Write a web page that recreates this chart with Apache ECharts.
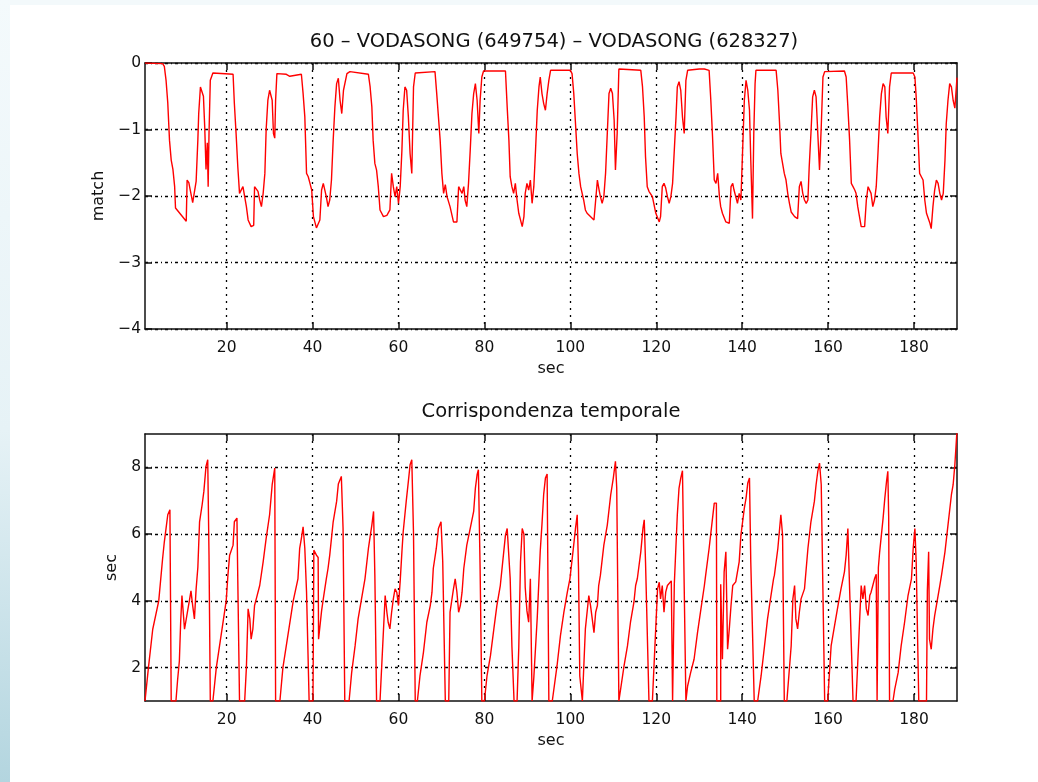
<!DOCTYPE html>
<html>
<head>
<meta charset="utf-8">
<title>VODASONG match</title>
<script src="https://cdn.jsdelivr.net/npm/echarts@6/dist/echarts.min.js"></script>
<style>
  html, body { margin: 0; padding: 0; background: #ffffff; }
  #wrap { position: relative; width: 1038px; height: 782px; overflow: hidden; }
  #topband { position: absolute; left: 0; top: 0; width: 1038px; height: 5px; background: #f3f9fb; }
  #strip { position: absolute; left: 0; top: 0; width: 10px; height: 782px;
           background: linear-gradient(to bottom, #f4fafc 0%, #e6f2f6 55%, #b3d5df 100%); }
  #chart { position: absolute; left: 0; top: 0; width: 1038px; height: 782px; }
</style>
</head>
<body>
<div id="wrap">
  <div id="topband"></div>
  <div id="strip"></div>
  <div id="chart"></div>
</div>
<script>
// top plot: match value over time
var topTime = [1.0, 5.1, 5.5, 5.9, 6.3, 6.7, 7.1, 7.5, 7.9, 8.1, 10.6, 10.8, 11.2, 11.5, 12.1, 12.9, 13.3, 13.5, 13.9, 14.3,
  14.6, 14.9, 15.2, 15.5, 15.7, 15.9, 16.2, 16.8, 21.5, 21.8, 22.2, 22.6, 23.0, 23.4, 23.8, 24.2, 24.6, 25.0, 25.7, 26.3,
  26.5, 26.9, 27.3, 27.7, 28.1, 28.5, 28.9, 29.2, 29.6, 30.0, 30.4, 30.6, 30.9, 31.2, 31.4, 31.7, 33.9, 34.7, 37.4, 37.8,
  38.2, 38.6, 39.0, 39.4, 39.8, 40.2, 40.9, 41.7, 42.1, 42.5, 42.9, 43.2, 43.6, 44.0, 44.4, 44.8, 45.2, 45.6, 46.0, 46.4,
  46.8, 47.2, 48.0, 48.7, 53.0, 53.4, 53.8, 54.1, 54.5, 54.9, 55.3, 55.7, 56.5, 57.3, 58.0, 58.4, 58.8, 59.2, 59.6, 60.0,
  60.4, 60.8, 61.1, 61.5, 61.9, 62.3, 62.7, 63.1, 63.5, 63.9, 68.5, 68.9, 69.7, 70.1, 70.5, 70.9, 71.3, 72.0, 72.8, 73.6,
  74.0, 74.4, 74.8, 75.2, 75.5, 75.9, 76.3, 76.7, 77.1, 77.5, 77.9, 78.3, 78.7, 79.0, 79.4, 79.8, 84.9, 85.3, 85.7, 86.0,
  86.4, 86.8, 87.2, 87.6, 88.0, 88.8, 89.2, 89.5, 89.9, 90.3, 90.7, 91.1, 91.5, 91.9, 92.3, 92.7, 93.0, 93.4, 93.8, 94.2,
  94.6, 95.0, 95.4, 95.8, 100.0, 100.4, 100.8, 101.2, 101.6, 102.0, 102.4, 103.1, 103.5, 103.9, 105.5, 105.9, 106.3, 106.7, 107.0, 107.4,
  107.8, 108.2, 108.6, 109.0, 109.4, 109.8, 110.2, 110.5, 110.9, 111.3, 116.4, 116.8, 117.2, 117.5, 117.9, 118.3, 118.7, 119.1, 119.9, 120.7,
  121.0, 121.4, 121.8, 122.2, 122.6, 123.0, 123.4, 123.8, 124.2, 124.6, 124.9, 125.3, 125.7, 126.1, 126.5, 126.9, 127.3, 130.0, 130.4, 131.2,
  132.3, 132.7, 133.1, 133.5, 133.9, 134.3, 134.7, 135.0, 135.4, 136.2, 137.0, 137.4, 137.8, 138.1, 138.5, 138.9, 139.3, 139.7, 140.1, 140.5,
  140.9, 141.3, 141.7, 142.0, 142.4, 142.7, 143.0, 143.2, 147.9, 148.3, 148.7, 149.0, 149.4, 149.8, 150.2, 150.6, 151.0, 151.4, 152.2, 152.9,
  153.3, 153.7, 154.1, 154.5, 154.9, 155.3, 155.6, 156.0, 156.4, 156.8, 157.2, 157.6, 158.0, 158.4, 158.8, 159.2, 163.8, 164.2, 164.6, 165.0,
  165.4, 165.8, 166.2, 166.5, 166.9, 167.3, 167.7, 168.5, 168.9, 169.3, 169.7, 170.0, 170.4, 170.8, 171.2, 171.6, 172.0, 172.4, 172.8, 173.2,
  173.5, 173.9, 174.3, 174.7, 179.8, 180.2, 180.5, 180.9, 181.3, 181.7, 182.1, 182.5, 182.9, 183.7, 184.0, 184.4, 184.8, 185.2, 185.6, 186.0,
  186.4, 186.8, 187.2, 187.5, 187.9, 188.3, 188.7, 189.1, 189.5, 189.9, 190.0];
var topMatch = [0, -0.01, -0.05, -0.26, -0.6, -1.16, -1.46, -1.6, -1.86, -2.18, -2.38, -1.76, -1.8, -1.9, -2.1, -1.78, -1.16, -0.76, -0.36, -0.38,
  -0.5, -0.96, -1.6, -1.2, -1.86, -1.06, -0.26, -0.15, -0.17, -0.61, -1.06, -1.56, -1.96, -1.98, -1.86, -2.01, -2.16, -2.36, -2.46, -2.44,
  -1.86, -1.86, -1.93, -2.06, -2.16, -1.96, -1.66, -1.0, -0.56, -0.41, -0.38, -0.56, -1.06, -1.13, -0.56, -0.16, -0.17, -0.2, -0.17, -0.46,
  -0.81, -1.66, -1.71, -1.81, -1.91, -2.31, -2.48, -2.36, -1.91, -1.81, -1.78, -2.01, -2.16, -2.06, -1.76, -1.16, -0.66, -0.31, -0.23, -0.56,
  -0.76, -0.41, -0.16, -0.13, -0.17, -0.36, -0.66, -1.16, -1.51, -1.61, -1.86, -2.21, -2.31, -2.29, -2.21, -1.66, -1.86, -2.01, -1.86, -2.11,
  -1.86, -1.31, -0.71, -0.36, -0.41, -0.81, -1.36, -1.66, -0.36, -0.15, -0.13, -0.46, -1.16, -1.66, -1.96, -1.83, -2.01, -2.16, -2.39, -2.39,
  -1.86, -1.83, -1.96, -1.86, -2.06, -2.16, -1.81, -1.31, -0.76, -0.46, -0.31, -0.56, -1.06, -0.56, -0.21, -0.12, -0.12, -0.66, -1.16, -1.71,
  -1.86, -1.96, -1.81, -2.06, -2.26, -2.46, -2.31, -1.96, -1.81, -1.91, -1.76, -2.11, -1.86, -1.31, -0.71, -0.36, -0.21, -0.46, -0.61, -0.71,
  -0.46, -0.26, -0.11, -0.09, -0.11, -0.16, -0.46, -0.91, -1.36, -1.66, -1.86, -2.06, -2.21, -2.26, -2.36, -2.06, -1.76, -1.91, -2.01, -2.11,
  -2.01, -1.66, -1.06, -0.46, -0.38, -0.46, -0.86, -1.61, -1.06, -0.09, -0.11, -0.36, -0.81, -1.41, -1.86, -1.93, -1.96, -2.01, -2.26, -2.39,
  -2.31, -1.86, -1.81, -1.88, -2.01, -2.11, -2.01, -1.81, -1.31, -0.81, -0.36, -0.28, -0.41, -0.81, -1.06, -0.26, -0.11, -0.09, -0.12, -0.09,
  -0.11, -0.56, -1.11, -1.76, -1.81, -1.66, -2.01, -2.16, -2.26, -2.39, -2.41, -1.86, -1.81, -1.91, -2.01, -2.11, -1.96, -2.06, -1.31, -0.56,
  -0.26, -0.41, -0.71, -1.46, -2.34, -1.06, -0.31, -0.11, -0.11, -0.41, -0.91, -1.36, -1.51, -1.66, -1.76, -1.96, -2.11, -2.24, -2.31, -2.34,
  -1.86, -1.78, -1.96, -2.06, -2.11, -2.06, -1.56, -1.06, -0.51, -0.41, -0.51, -1.06, -1.61, -0.96, -0.21, -0.13, -0.12, -0.21, -0.66, -1.16,
  -1.81, -1.86, -1.91, -1.96, -2.16, -2.31, -2.46, -2.46, -2.06, -1.86, -1.83, -1.96, -2.16, -2.06, -1.86, -1.36, -0.81, -0.46, -0.31, -0.36,
  -0.81, -1.06, -0.36, -0.15, -0.15, -0.21, -0.51, -1.06, -1.66, -1.71, -1.76, -2.06, -2.26, -2.41, -2.49, -2.16, -1.91, -1.76, -1.81, -1.96,
  -2.06, -1.96, -1.46, -0.91, -0.56, -0.31, -0.36, -0.56, -0.68, -0.31, -0.22];

// bottom plot: time correspondence (sec)
var botTime = [1.0, 1.8, 2.8, 4.2, 5.1, 5.5, 5.9, 6.3, 6.8, 7.1, 7.1, 8.2, 8.6, 9.0, 9.3, 9.6, 10.2, 10.6, 11.0, 11.4,
  11.7, 12.1, 12.5, 12.9, 13.3, 13.7, 14.3, 14.7, 15.2, 15.6, 15.9, 16.2, 16.8, 17.6, 19.9, 20.3, 20.7, 21.5, 21.8, 22.4,
  22.6, 23.0, 24.2, 24.6, 25.0, 25.4, 25.7, 26.1, 26.5, 26.9, 27.7, 28.5, 29.2, 30.0, 30.6, 31.2, 31.4, 32.4, 33.1, 35.5,
  36.6, 37.0, 37.4, 37.8, 38.2, 38.6, 39.2, 40.1, 40.3, 40.9, 41.3, 41.4, 42.1, 42.5, 43.2, 43.6, 44.0, 44.8, 45.6, 46.0,
  46.7, 47.1, 47.5, 48.5, 49.1, 49.9, 50.6, 51.4, 52.2, 53.0, 53.8, 54.2, 54.5, 54.5, 54.9, 55.7, 56.9, 57.3, 57.6, 58.0,
  58.4, 58.8, 59.2, 59.6, 60.0, 60.4, 60.8, 61.1, 61.8, 62.3, 62.7, 63.1, 63.5, 63.9, 64.4, 65.0, 65.8, 66.6, 67.4, 67.8,
  68.1, 68.8, 69.3, 69.9, 70.3, 70.9, 71.7, 72.0, 72.8, 73.2, 73.6, 74.0, 74.4, 74.8, 75.2, 75.9, 76.7, 77.5, 77.9, 78.3,
  78.6, 79.0, 79.4, 80.0, 80.6, 81.4, 82.2, 82.9, 83.7, 84.5, 84.9, 85.3, 85.7, 86.0, 86.4, 86.9, 87.6, 88.0, 88.4, 88.8,
  89.2, 89.5, 89.9, 90.3, 90.7, 91.1, 91.5, 92.3, 93.0, 93.4, 93.8, 94.2, 94.6, 95.0, 95.8, 96.9, 97.7, 98.5, 99.3, 99.9,
  100.0, 100.7, 101.2, 101.6, 101.9, 102.2, 102.8, 103.5, 104.3, 104.7, 105.1, 105.5, 105.9, 106.3, 106.6, 107.0, 107.8, 108.6, 109.4, 110.0,
  110.5, 110.8, 111.3, 111.7, 112.5, 113.3, 114.0, 114.8, 115.2, 115.6, 116.4, 116.9, 117.2, 117.5, 118.3, 119.1, 120.3, 120.7, 121.0, 121.4,
  121.8, 122.2, 122.6, 123.5, 123.8, 124.2, 124.9, 125.3, 125.7, 126.1, 126.5, 126.9, 127.3, 128.0, 128.8, 129.6, 130.4, 131.2, 131.5, 132.3,
  133.1, 133.5, 134.0, 134.1, 135.0, 135.0, 135.4, 135.8, 136.2, 136.6, 137.0, 137.4, 137.8, 138.5, 139.3, 139.7, 140.1, 140.5, 140.9, 141.3,
  141.7, 142.0, 142.8, 143.6, 144.4, 145.2, 145.9, 146.7, 147.3, 147.5, 148.3, 149.0, 149.4, 149.8, 150.4, 151.4, 151.8, 152.2, 152.5, 152.9,
  153.3, 153.7, 154.5, 155.3, 156.0, 156.8, 157.2, 157.6, 158.0, 158.4, 159.2, 159.9, 160.7, 161.5, 162.3, 163.0, 163.8, 164.2, 164.6, 165.0,
  165.8, 166.5, 167.7, 168.1, 168.5, 168.9, 169.3, 169.7, 170.0, 170.4, 170.8, 171.2, 171.4, 171.7, 172.0, 172.8, 173.2, 173.6, 173.9, 174.1,
  174.3, 175.1, 175.5, 176.3, 177.0, 177.8, 178.6, 179.4, 179.8, 180.2, 180.3, 180.5, 181.1, 182.9, 183.1, 183.4, 183.6, 184.0, 184.4, 184.8,
  185.2, 185.6, 186.0, 186.4, 187.2, 187.9, 188.7, 189.1, 189.5, 189.9, 190.0];
var botSec = [1.0, 2.0, 3.15, 4.0, 5.27, 5.77, 6.17, 6.58, 6.73, 6.73, 1.0, 1.0, 1.65, 2.2, 3.36, 4.16, 3.15, 3.1, 3.76, 4.06,
  4.3, 3.86, 3.46, 4.36, 5.0, 6.37, 6.88, 7.28, 8.03, 8.23, 5.37, 1.0, 1.0, 2.0, 4.0, 4.77, 5.37, 5.67, 6.37, 6.48,
  4.6, 1.0, 1.0, 2.0, 3.76, 3.46, 2.85, 3.15, 3.86, 4.06, 4.46, 5.17, 5.87, 6.58, 7.48, 7.98, 1.0, 1.0, 2.0, 4.0,
  4.66, 5.57, 5.87, 6.22, 5.57, 4.26, 1.0, 1.0, 5.52, 5.37, 5.3, 2.85, 3.7, 4.06, 4.66, 4.97, 5.37, 6.37, 6.98, 7.5,
  7.73, 6.17, 1.0, 1.0, 1.85, 2.65, 3.46, 4.06, 4.66, 5.57, 6.27, 6.68, 6.68, 4.77, 1.0, 1.0, 4.16, 3.66, 3.36, 3.16,
  3.66, 4.06, 4.36, 4.26, 3.86, 4.6, 5.47, 6.07, 6.98, 7.58, 8.08, 8.23, 6.0, 1.0, 1.0, 1.75, 2.45, 3.36, 3.86, 4.26,
  4.97, 5.57, 6.17, 6.37, 5.17, 1.0, 1.0, 3.66, 4.36, 4.66, 4.26, 3.66, 3.86, 4.26, 4.97, 5.67, 6.17, 6.68, 7.38, 7.78,
  7.93, 4.97, 1.0, 1.0, 1.75, 2.35, 3.16, 3.86, 4.46, 5.47, 5.97, 6.17, 6.17, 4.67, 2.65, 1.0, 1.0, 2.6, 5.17, 6.17,
  6.0, 4.4, 3.7, 3.36, 4.66, 1.0, 1.7, 3.5, 5.5, 6.3, 7.2, 7.68, 7.8, 1.0, 1.0, 2.05, 2.96, 3.66, 4.26, 4.66,
  4.77, 5.57, 6.17, 6.58, 4.97, 1.75, 1.0, 3.16, 4.16, 3.86, 3.46, 3.05, 3.66, 3.86, 4.46, 4.77, 5.67, 6.27, 7.18, 7.68,
  8.18, 7.38, 1.0, 1.0, 2.05, 2.65, 3.36, 3.96, 4.46, 4.67, 5.47, 6.17, 6.43, 5.17, 1.0, 1.0, 4.36, 4.56, 4.06, 4.46,
  3.66, 4.26, 4.46, 4.6, 1.0, 4.5, 6.58, 7.38, 7.68, 7.9, 7.9, 1.0, 1.45, 1.85, 2.25, 3.05, 3.76, 4.46, 4.77, 5.57,
  6.48, 6.93, 6.93, 1.0, 1.0, 4.5, 2.25, 4.87, 5.47, 2.55, 3.16, 3.86, 4.46, 4.57, 5.17, 5.97, 6.37, 6.78, 7.08, 7.53,
  7.68, 5.17, 1.0, 1.0, 1.75, 2.65, 3.46, 4.16, 4.66, 4.77, 5.57, 6.58, 5.97, 1.0, 1.0, 2.65, 4.06, 4.46, 3.46, 3.16,
  3.66, 4.06, 4.36, 5.57, 6.37, 6.98, 7.48, 7.88, 8.13, 7.48, 1.0, 1.0, 2.65, 3.26, 3.86, 4.36, 4.87, 5.37, 6.17, 4.37,
  1.0, 1.0, 4.46, 4.06, 4.46, 3.76, 3.56, 4.16, 4.26, 4.46, 4.66, 4.8, 1.0, 5.0, 5.47, 6.48, 7.08, 7.58, 7.88, 6.5,
  1.0, 1.0, 1.35, 1.85, 2.65, 3.36, 4.16, 4.66, 5.57, 6.17, 6.17, 5.17, 1.0, 1.0, 4.3, 5.47, 2.85, 2.55, 3.16, 3.56,
  3.86, 4.16, 4.46, 4.77, 5.47, 6.27, 7.18, 7.48, 8.08, 8.9, 9.1];

var xTicks = [20, 40, 60, 80, 100, 120, 140, 160, 180];
var topTicks = [-4, -3, -2, -1, 0];
var botTicks = [2, 4, 6, 8];

var FONT = 'DejaVu Sans';
var INK = '#111';

function pairs(xs, ys) {
  return xs.map(function (x, i) { return [x, ys[i]]; });
}
function minusSign(v) {
  return String(v).replace('-', '\u2212');
}

function xAxisOf(grid, pos, labels) {
  return {
    type: 'value', gridIndex: grid, position: pos, min: 1, max: 190,
    name: labels ? 'sec' : '', nameLocation: 'middle', nameGap: 32,
    nameTextStyle: { fontFamily: FONT, fontSize: 16, color: INK },
    axisLine: { show: true, onZero: false, lineStyle: { color: INK, width: 1.5 } },
    axisTick: { show: true, inside: true, length: 7, customValues: xTicks, lineStyle: { color: INK, width: 1.5 } },
    axisLabel: { show: labels, customValues: xTicks, margin: 11, fontFamily: FONT, fontSize: 15.5, color: INK },
    splitLine: { show: labels, lineStyle: { color: '#000', width: 1.3, type: [2, 5] } }
  };
}
function yAxisOf(grid, pos, labels, min, max, ticks, name, gap) {
  return {
    type: 'value', gridIndex: grid, position: pos, min: min, max: max,
    name: labels ? name : '', nameLocation: 'middle', nameGap: gap,
    nameTextStyle: { fontFamily: FONT, fontSize: 16, color: INK },
    axisLine: { show: true, onZero: false, lineStyle: { color: INK, width: 1.5 } },
    axisTick: { show: true, inside: true, length: 7, customValues: ticks, lineStyle: { color: INK, width: 1.5 } },
    axisLabel: { show: labels, customValues: ticks, margin: 4, fontFamily: FONT, fontSize: 15.5, color: INK,
      formatter: minusSign },
    splitLine: { show: labels, lineStyle: { color: '#000', width: 1.3, type: [3, 3, 1, 3] } }
  };
}

var chart = echarts.init(document.getElementById('chart'), null, { renderer: 'canvas' });
chart.setOption({
  backgroundColor: 'transparent',
  animation: false,
  title: [
    { text: '60 \u2013 VODASONG (649754) \u2013 VODASONG (628327)', left: 554, top: 42, padding: 0,
      textAlign: 'center', textVerticalAlign: 'middle',
      textStyle: { fontFamily: FONT, fontSize: 19.5, fontWeight: 'normal', color: INK } },
    { text: 'Corrispondenza temporale', left: 551, top: 412, padding: 0,
      textAlign: 'center', textVerticalAlign: 'middle',
      textStyle: { fontFamily: FONT, fontSize: 19.5, fontWeight: 'normal', color: INK } }
  ],
  grid: [
    { left: 145, top: 63, width: 812, height: 266, backgroundColor: '#fff', show: true, borderWidth: 0 },
    { left: 145, top: 434, width: 812, height: 267, backgroundColor: '#fff', show: true, borderWidth: 0 }
  ],
  xAxis: [
    xAxisOf(0, 'bottom', true),
    xAxisOf(0, 'top', false),
    xAxisOf(1, 'bottom', true),
    xAxisOf(1, 'top', false)
  ],
  yAxis: [
    yAxisOf(0, 'left', true, -4, 0, topTicks, 'match', 37),
    yAxisOf(0, 'right', false, -4, 0, topTicks, '', 0),
    yAxisOf(1, 'left', true, 1, 9, botTicks, 'sec', 25),
    yAxisOf(1, 'right', false, 1, 9, botTicks, '', 0)
  ],
  series: [
    { type: 'line', xAxisIndex: 0, yAxisIndex: 0, data: pairs(topTime, topMatch), showSymbol: false,
      clip: true, lineStyle: { color: '#ff0000', width: 1.4 }, z: 5 },
    { type: 'line', xAxisIndex: 2, yAxisIndex: 2, data: pairs(botTime, botSec), showSymbol: false,
      clip: true, lineStyle: { color: '#ff0000', width: 1.4 }, z: 5 }
  ]
});
</script>
</body>
</html>
